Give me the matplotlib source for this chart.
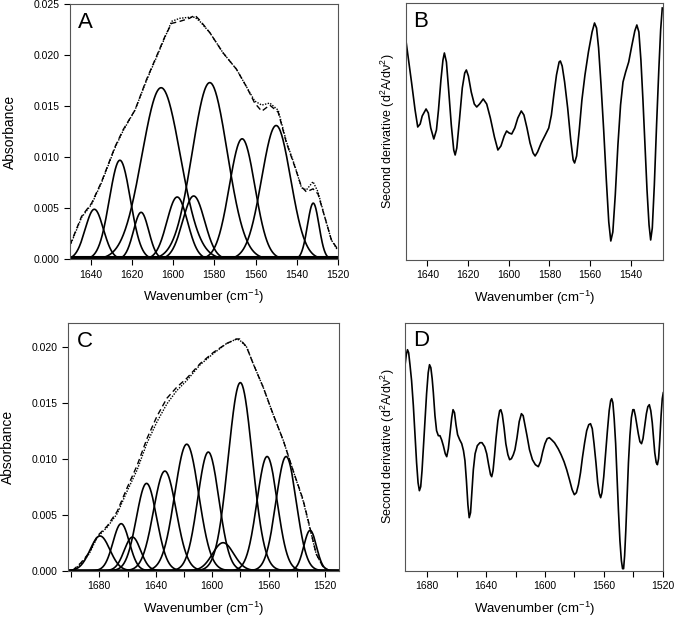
import numpy as np
import matplotlib
matplotlib.use('Agg')
import matplotlib.pyplot as plt
from matplotlib import rcParams

# Plot settings
rcParams['font.family'] = ['Liberation Sans', 'DejaVu Sans']
rcParams['mathtext.fontset'] = 'custom'
rcParams['mathtext.rm'] = 'Liberation Sans'
rcParams['mathtext.it'] = 'Liberation Sans'
rcParams['xtick.labelsize'] = 7.5
rcParams['ytick.labelsize'] = 7.5
rcParams['axes.linewidth'] = 0.8

# ---- Panel A: band fit (center cm-1, height, sigma cm-1) ----
bands_a_center = [1638.2, 1625.8, 1615.5, 1605.8, 1598.0, 1590.0, 1582.2, 1566.5, 1550.0, 1532.0]
bands_a_height = [0.0049, 0.0097, 0.0046, 0.0168, 0.0061, 0.0062, 0.0173, 0.0118, 0.0131, 0.0055]
bands_a_sigma = [4.4, 5.1, 3.7, 9.3, 5.0, 5.3, 8.5, 6.2, 7.0, 2.8]
baseline_a = 0.0002

# measured spectrum (dashed) and fitted sum (dotted)
spec_a_wn = [1650.0, 1644.4, 1639.5, 1634.7, 1628.2, 1624.2, 1618.5, 1612.9, 1608.0, 1604.0,
             1600.7, 1596.7, 1592.0, 1589.4, 1587.0, 1582.2, 1575.7, 1569.2, 1564.4, 1560.4,
             1557.0, 1553.1, 1549.0, 1545.0, 1541.0, 1537.7, 1535.3, 1532.1, 1529.7, 1526.5,
             1523.2, 1520.5]
meas_a = [0.0014, 0.0042, 0.0055, 0.0076, 0.0110, 0.0127, 0.0146, 0.0176, 0.0199, 0.0218,
          0.0231, 0.0233, 0.0236, 0.0239, 0.0234, 0.0222, 0.0202, 0.0186, 0.0169, 0.0153,
          0.0145, 0.0151, 0.0144, 0.0114, 0.0091, 0.0071, 0.0066, 0.0069, 0.0064, 0.0042,
          0.0019, 0.0011]
fit_a = [0.0013, 0.0041, 0.0054, 0.0075, 0.0109, 0.0126, 0.0146, 0.0175, 0.0198, 0.0217,
         0.0233, 0.0236, 0.0237, 0.0237, 0.0233, 0.0222, 0.0202, 0.0186, 0.0169, 0.0155,
         0.0151, 0.0153, 0.0146, 0.0115, 0.0092, 0.0070, 0.0068, 0.0076, 0.0066, 0.0042,
         0.0019, 0.0010]

# ---- Panel B: second derivative (arbitrary units) ----
deriv_b_wn = [1650.4, 1647.7, 1646.0, 1644.7, 1643.5, 1642.5, 1640.6, 1639.5, 1638.3, 1636.8,
              1635.5, 1634.5, 1633.3, 1632.3, 1631.6, 1630.6, 1629.5, 1628.2, 1627.0, 1626.3,
              1625.5, 1624.2, 1622.8, 1621.6, 1620.8, 1619.8, 1618.4, 1616.9, 1615.7, 1614.3,
              1612.5, 1610.8, 1609.0, 1607.0, 1605.3, 1603.8, 1602.2, 1601.0, 1599.8, 1598.5,
              1597.0, 1595.5, 1593.8, 1592.5, 1591.0, 1589.5, 1588.0, 1587.0, 1585.8, 1584.0,
              1582.0, 1580.3, 1579.0, 1577.8, 1576.5, 1575.2, 1574.6, 1573.7, 1572.5, 1571.0,
              1569.5, 1568.3, 1567.6, 1566.6, 1565.3, 1564.0, 1562.5, 1560.8, 1559.0, 1557.8,
              1556.8, 1555.8, 1554.6, 1553.3, 1552.0, 1550.8, 1549.8, 1548.8, 1547.6, 1546.3,
              1545.0, 1543.8, 1542.5, 1541.0, 1539.5, 1538.0, 1537.0, 1536.0, 1535.0, 1534.0,
              1533.0, 1532.0, 1531.0, 1530.2, 1529.4, 1528.4, 1527.3, 1526.2, 1525.3, 1524.5]
deriv_b = [218, 177, 150, 133, 136, 144, 151, 147, 132, 121,
           130, 150, 180, 200, 207, 198, 170, 135, 110, 105,
           112, 140, 172, 187, 190, 184, 168, 156, 153, 156,
           161, 156, 142, 123, 110, 114, 124, 129, 127, 126,
           132, 142, 149, 145, 132, 117, 107, 104, 108, 117,
           125, 132, 145, 165, 185, 198, 199, 194, 178, 152,
           120, 100, 97, 104, 130, 160, 185, 208, 228, 237,
           232, 212, 175, 130, 80, 38, 19, 28, 65, 115,
           155, 178, 188, 198, 214, 229, 235, 228, 200, 160,
           115, 70, 35, 20, 32, 75, 135, 190, 230, 252]

# ---- Panel C: band fit ----
bands_c_center = [1679.5, 1664.5, 1656.5, 1646.5, 1633.5, 1618.0, 1602.7, 1592.2, 1580.0, 1561.0, 1547.5, 1530.5]
bands_c_height = [0.0031, 0.0042, 0.0030, 0.0078, 0.0089, 0.0113, 0.0106, 0.0025, 0.0168, 0.0102, 0.0102, 0.0036]
bands_c_sigma = [7.0, 5.8, 5.8, 7.2, 8.0, 8.5, 7.5, 7.5, 8.5, 7.2, 7.2, 4.5]

spec_c_wn = [1699.1, 1693.1, 1687.2, 1681.4, 1674.3, 1667.3, 1660.3, 1653.2, 1646.2, 1639.1,
             1632.1, 1625.0, 1617.9, 1608.5, 1599.1, 1589.7, 1582.6, 1580.4, 1575.6, 1570.9,
             1563.8, 1556.8, 1549.7, 1542.7, 1535.6, 1530.9, 1526.2, 1521.6, 1516.9]
meas_c = [0.0000, 0.0007, 0.0016, 0.0031, 0.0040, 0.0053, 0.0074, 0.0094, 0.0118, 0.0138,
          0.0154, 0.0164, 0.0172, 0.0185, 0.0195, 0.0203, 0.0207, 0.0207, 0.0200, 0.0185,
          0.0164, 0.0140, 0.0117, 0.0090, 0.0064, 0.0040, 0.0015, 0.0004, 0.0000]
fit_c = [0.0000, 0.0006, 0.0015, 0.0030, 0.0039, 0.0051, 0.0071, 0.0090, 0.0114, 0.0133,
         0.0149, 0.0161, 0.0170, 0.0184, 0.0194, 0.0203, 0.0207, 0.0206, 0.0200, 0.0185,
         0.0164, 0.0140, 0.0117, 0.0090, 0.0063, 0.0039, 0.0015, 0.0004, 0.0000]

# ---- Panel D: second derivative (arbitrary units) ----
deriv_d_wn = [1695.2, 1694.3, 1693.5, 1692.7, 1691.8, 1690.7, 1689.5, 1688.4, 1687.3, 1686.3,
              1685.4, 1684.5, 1683.6, 1682.7, 1681.6, 1680.5, 1679.4, 1678.5, 1677.6, 1676.7,
              1675.9, 1674.8, 1673.7, 1672.5, 1671.4, 1670.3, 1669.1, 1667.8, 1666.8, 1665.7,
              1664.6, 1663.4, 1662.5, 1661.5, 1660.5, 1659.4, 1658.0, 1656.6, 1655.4, 1654.4,
              1653.4, 1652.4, 1651.5, 1650.6, 1649.7, 1648.7, 1647.5, 1646.0, 1644.2, 1642.8,
              1641.0, 1639.6, 1638.3, 1637.0, 1636.2, 1635.3, 1634.3, 1633.3, 1632.0, 1630.8,
              1630.0, 1629.0, 1627.8, 1626.6, 1625.2, 1624.0, 1622.8, 1621.5, 1620.4, 1619.0,
              1617.5, 1616.0, 1614.8, 1613.5, 1612.2, 1610.5, 1608.5, 1606.5, 1604.5, 1603.0,
              1601.5, 1600.0, 1598.5, 1597.0, 1595.5, 1593.5, 1591.0, 1589.0, 1587.0, 1585.2,
              1583.3, 1581.5, 1580.0, 1578.6, 1577.2, 1575.8, 1574.5, 1573.0, 1571.6, 1570.2,
              1569.0, 1567.8, 1566.6, 1565.3, 1564.1, 1563.0, 1562.1, 1561.2, 1560.0, 1558.8,
              1557.5, 1556.3, 1555.3, 1554.6, 1553.8, 1552.9, 1551.9, 1551.0, 1550.0, 1549.0,
              1548.0, 1547.2, 1546.5, 1545.8, 1545.0, 1544.1, 1543.2, 1542.2, 1541.2, 1540.2,
              1539.4, 1538.5, 1537.5, 1536.5, 1535.4, 1534.3, 1533.3, 1532.2, 1531.0, 1530.0,
              1529.0, 1528.0, 1527.0, 1526.2, 1525.3, 1524.3, 1523.5, 1522.7, 1521.9, 1521.0,
              1520.2, 1519.5]
deriv_d = [205, 216, 221, 218, 206, 190, 165, 137, 108, 88,
           80, 84, 100, 122, 150, 177, 198, 206, 203, 192,
           178, 155, 140, 135, 135, 131, 125, 117, 114, 122,
           137, 153, 161, 158, 146, 136, 131, 127, 120, 110,
           90, 66, 53, 58, 78, 101, 117, 125, 128, 128,
           124, 117, 106, 96, 94, 100, 115, 132, 150, 160,
           161, 156, 143, 127, 116, 111, 112, 116, 121, 133,
           149, 157, 155, 145, 135, 121, 111, 106, 104, 109,
           119, 127, 132, 133, 131, 128, 122, 116, 109, 101,
           91, 81, 76, 78, 86, 98, 113, 128, 140, 146,
           147, 142, 127, 108, 88, 77, 73, 78, 94, 116,
           140, 160, 170, 172, 168, 152, 127, 96, 60, 30,
           10, 2, 2, 15, 40, 75, 108, 135, 153, 161,
           161, 155, 146, 137, 129, 127, 132, 144, 157, 164,
           166, 160, 148, 134, 118, 108, 106, 112, 130, 155,
           172, 178]


def gauss(x, c, h, s):
    return h * np.exp(-0.5 * ((x - c) / s) ** 2)


fig = plt.figure(figsize=(6.85, 6.22), dpi=100)
ax_a = fig.add_axes([0.1022, 0.5831, 0.3912, 0.4105])
ax_b = fig.add_axes([0.5923, 0.5820, 0.3760, 0.4132])
ax_c = fig.add_axes([0.0997, 0.0825, 0.3952, 0.3977])
ax_d = fig.add_axes([0.5912, 0.0825, 0.3771, 0.3987])


def band_panel(ax, centers, heights, sigmas, wn, meas, fit, xlim, ylim, letter):
    x = np.linspace(xlim[1], xlim[0], 800)
    for c, h, s in zip(centers, heights, sigmas):
        ax.plot(x, gauss(x, c, h, s), color='black', lw=1.2)
    ax.plot(wn, meas, color='black', lw=1.0, ls=(0, (4, 2.5)))
    ax.plot(wn, fit, color='black', lw=1.0, ls=(0, (1, 1)))
    ax.set_xlim(xlim)
    ax.set_ylim(ylim)
    ax.set_ylabel('Absorbance', fontsize=10, labelpad=12)
    ax.set_xlabel('Wavenumber (cm$^{-1}$)', fontsize=9.5, labelpad=6)
    ax.text(0.03, 0.97, letter, transform=ax.transAxes, fontsize=16, va='top', ha='left')


def deriv_panel(ax, wn, vals, xlim, ylim, letter):
    ax.plot(wn, vals, color='black', lw=1.2)
    ax.set_xlim(xlim)
    ax.set_ylim(ylim)
    ax.set_yticks([])
    ax.set_ylabel(r'Second derivative (d$^2$A/d$\nu^2$)', fontsize=9, labelpad=6)
    ax.set_xlabel('Wavenumber (cm$^{-1}$)', fontsize=9.5, labelpad=6)
    ax.text(0.03, 0.97, letter, transform=ax.transAxes, fontsize=16, va='top', ha='left')


band_panel(ax_a, bands_a_center, bands_a_height, bands_a_sigma, spec_a_wn, meas_a, fit_a,
           (1650, 1520), (0, 0.025), 'A')
ax_a.axhline(baseline_a, color='black', lw=1.5)
ax_a.set_xticks([1640, 1620, 1600, 1580, 1560, 1540, 1520])
ax_a.set_yticks([0, 0.005, 0.010, 0.015, 0.020, 0.025])
ax_a.set_yticklabels(['0.000', '0.005', '0.010', '0.015', '0.020', '0.025'])

deriv_panel(ax_b, deriv_b_wn, deriv_b, (1650.6, 1524.0), (0, 257), 'B')
ax_b.set_xticks([1640, 1620, 1600, 1580, 1560, 1540])

band_panel(ax_c, bands_c_center, bands_c_height, bands_c_sigma, spec_c_wn, meas_c, fit_c,
           (1702, 1510), (0, 0.0221), 'C')
ax_c.set_xticks(np.arange(1700, 1519, -20))
ax_c.set_xticklabels(['' if t % 40 else str(t) for t in np.arange(1700, 1519, -20)])
ax_c.set_yticks([0, 0.005, 0.010, 0.015, 0.020])
ax_c.set_yticklabels(['0.000', '0.005', '0.010', '0.015', '0.020'])

deriv_panel(ax_d, deriv_d_wn, deriv_d, (1695.2, 1519.5), (0, 248), 'D')
ax_d.set_xticks(np.arange(1680, 1519, -20))
ax_d.set_xticklabels(['' if t % 40 else str(t) for t in np.arange(1680, 1519, -20)])

for ax in [ax_a, ax_b, ax_c, ax_d]:
    ax.tick_params(direction='out', length=4, width=0.8, color='black')
    for sp in ax.spines.values():
        sp.set_color('#555555')

plt.savefig('out.png', dpi=100)
